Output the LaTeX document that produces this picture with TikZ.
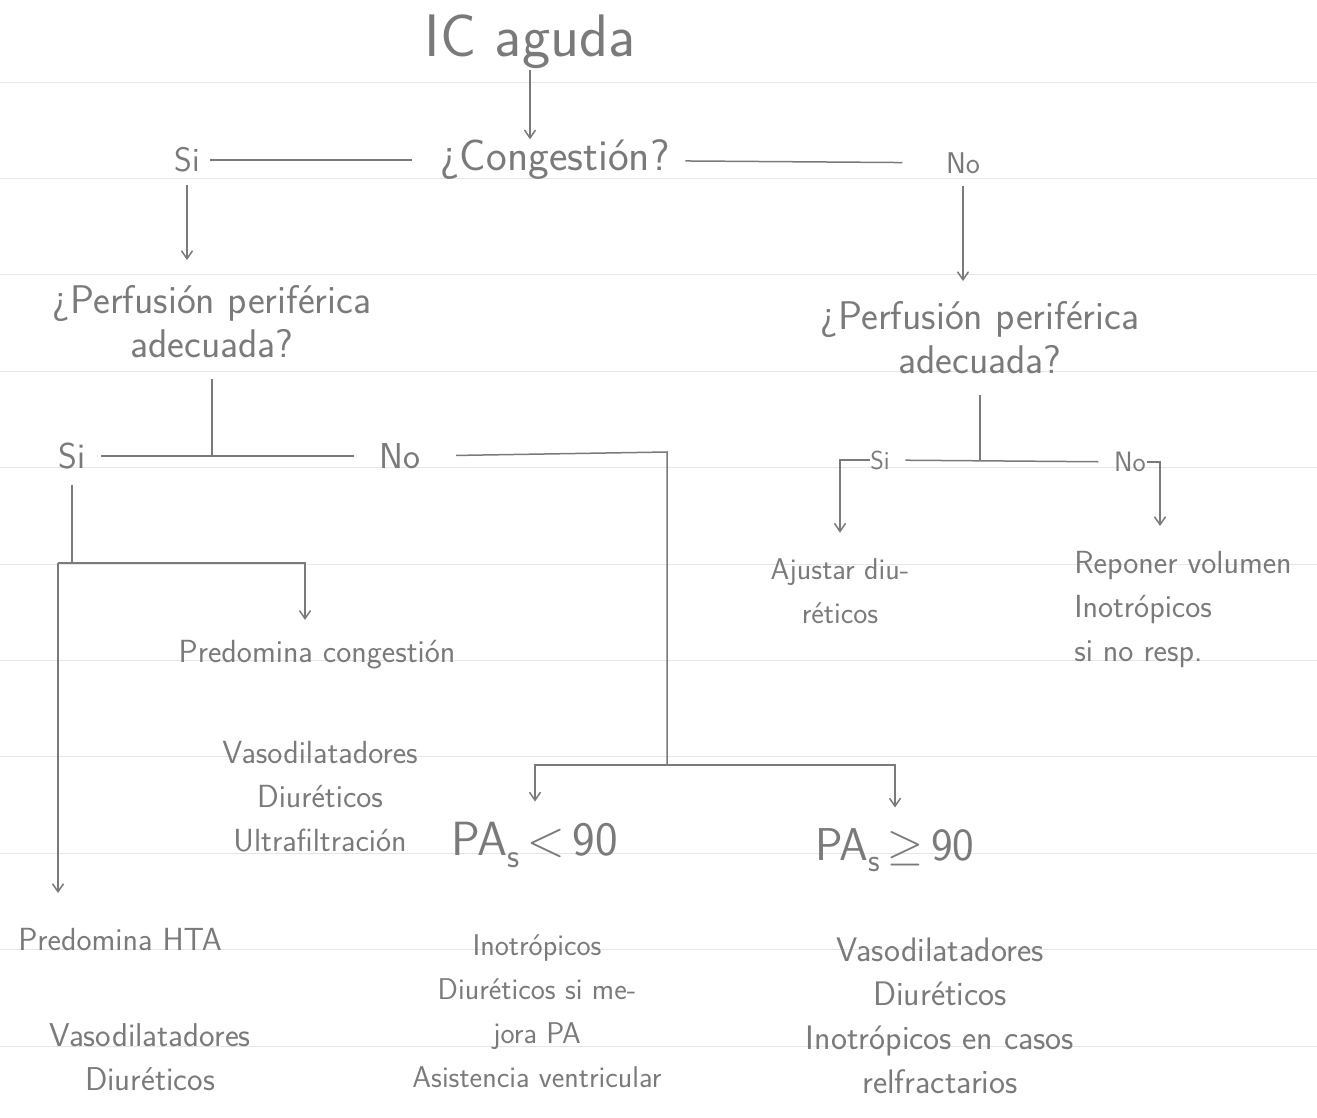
\documentclass[tikz,border=0pt]{standalone}
\usepackage{amsmath}
\usepackage{fontspec}
\usepackage{unicode-math}
\usepackage{tikz}
\usepackage{xcolor}
\usetikzlibrary{arrows.meta}
\definecolor{pencil}{HTML}{7A7A7A}
\definecolor{ruling}{HTML}{E6E6E6}

\begin{document}
\begin{tikzpicture}[x=1pt, y=-1pt, line width=1.5pt, draw=pencil, >={Straight Barb[length=8pt, width=11pt]},
  hand/.style={text=pencil, align=center, inner sep=0pt, font=\sffamily\fontsize{#1}{44}\selectfont}]
\useasboundingbox (0,0) rectangle (1317,1117);
\foreach \k in {0,...,10} \draw [ruling, line width=1pt] (0,82+96.4*\k) -- (1317,82+96.4*\k);
\node [hand=60] (1) at (530,42) {IC aguda};
\node [hand=44] (2) at (555,160) {¿Congestión?};
\node [hand=34] (3) at (187,160) {Si};
\node [hand=30] (4) at (963,163) {No};
\node [hand=40] (5) at (212,322) {¿Perfusión periférica\\adecuada?};
\node [hand=40] (6) at (980,338) {¿Perfusión periférica\\adecuada?};
\node [hand=36] (7) at (72,456) {Si};
\node [hand=36] (8) at (400,456) {No};
\node [hand=26] (9) at (880,460) {Si};
\node [hand=28] (10) at (1130,462) {No};
\node [hand=32] (11) at (317,655) {Predomina congestión};
\node [hand=32] (12) at (320,797) {Vasodilatadores\\Diuréticos\\Ultrafiltración};
\node [hand=48] (13) at (535,845) {PA\textsubscript{s}$\,<\,$90};
\node [hand=46] (14) at (895,850) {PA\textsubscript{s}$\,\geq\,$90};
\node [hand=32] (15) at (120,940) {Predomina HTA};
\node [hand=33] (16) at (150,1057) {Vasodilatadores\\Diuréticos};
\node [hand=30] (17) at (537,1011) {Inotrópicos\\Diuréticos si me-\\jora PA\\Asistencia ventricular};
\node [hand=34] (18) at (940,1016) {Vasodilatadores\\Diuréticos\\Inotrópicos en casos\\relfractarios};
\node [hand=30] (19) at (840,591) {Ajustar diu-\\réticos};
\node [hand=32, align=left] (20) at (1183,610) {Reponer volumen\\Inotrópicos\\si no resp.};
\coordinate (a) at (667,452);
\coordinate (b) at (667,765);
\coordinate (c) at (58,563);
\draw [->] (1.south) -- (1.south |- 2.north);
\draw [shorten <=10pt, shorten >=28pt] (3) -- (2);
\draw [shorten <=15pt, shorten >=43pt] (2) -- (4);
\draw [->, shorten <=12pt, shorten >=25pt] (3.south) -- (3.south |- 5.north);
\draw [->, shorten <=12pt, shorten >=20pt] (4.south) -- (4.south |- 6.north);
\draw [shorten <=20pt] (5.south) -- (5.south |- 7);
\draw [shorten <=15pt, shorten >=25pt] (7) -- (8);
\draw [shorten <=35pt] (8.east) -- (a) -- (b);
\draw [->, shorten >=20pt] (b) -| (13);
\draw [->, shorten >=20pt] (b) -| (14);
\draw [shorten <=15pt] (7.south) -- (7.south |- c);
\draw [->, shorten >=20pt] (c) -| ([xshift=-12pt]11.north);
\draw [->, shorten >=35pt] (c) -- (c |- 15.north);
\draw [shorten <=20pt] (6.south) -- (6.south |- 9);
\draw [shorten <=15pt, shorten >=15pt] (9) -- (10);
\draw [->, shorten >=25pt] (9.west) -| (19);
\draw [->, shorten >=25pt] (10.east) -| ([xshift=-23pt]20.north);
\end{tikzpicture}
\end{document}
